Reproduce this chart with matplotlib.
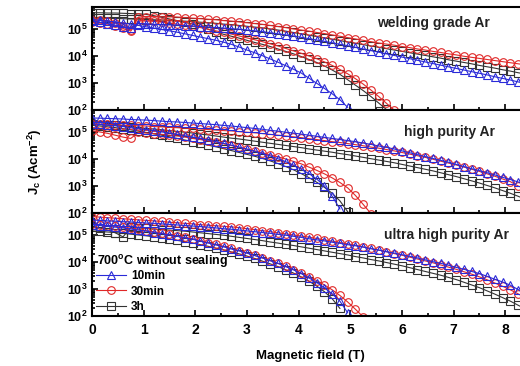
import numpy as np
import matplotlib
matplotlib.use("Agg")
import matplotlib.pyplot as plt
from matplotlib.lines import Line2D
from matplotlib.ticker import LogLocator, MultipleLocator, NullFormatter

plt.rcParams['font.family'] = ['Liberation Sans', 'DejaVu Sans']
plt.rcParams['font.weight'] = 'bold'
plt.rcParams['mathtext.fontset'] = 'custom'
plt.rcParams['mathtext.rm'] = 'Liberation Sans:bold'
plt.rcParams['mathtext.bf'] = 'Liberation Sans:bold'
plt.rcParams['mathtext.it'] = 'Liberation Sans:bold'

# magnetic field steps (T)
field = [0.0, 0.15, 0.3, 0.45, 0.6, 0.75, 0.9, 1.05, 1.2, 1.35, 1.5, 1.65, 1.8, 1.95,
         2.1, 2.25, 2.4, 2.55, 2.7, 2.85, 3.0, 3.15, 3.3, 3.45, 3.6, 3.75, 3.9, 4.05,
         4.2, 4.35, 4.5, 4.65, 4.8, 4.95, 5.1, 5.25, 5.4, 5.55, 5.7, 5.85, 6.0, 6.15,
         6.3, 6.45, 6.6, 6.75, 6.9, 7.05, 7.2, 7.35, 7.5, 7.65, 7.8, 7.95, 8.1, 8.25, 8.4]

# all Jc values below are log10(Jc / A cm^-2)
# --- welding grade Ar ---
weld_10min_hi = [5.30, 5.25, 5.20, 5.14, 5.08, 5.03, 5.20, 5.19, 5.17, 5.16, 5.15, 5.14, 5.12, 5.11,
                 5.09, 5.07, 5.05, 5.03, 5.01, 4.99, 4.96, 4.93, 4.90, 4.86, 4.82, 4.78, 4.74, 4.69,
                 4.64, 4.59, 4.54, 4.49, 4.43, 4.38, 4.32, 4.26, 4.20, 4.14, 4.08, 4.02, 3.96, 3.90,
                 3.84, 3.78, 3.72, 3.66, 3.60, 3.54, 3.48, 3.42, 3.36, 3.30, 3.23, 3.17, 3.11, 3.04, 2.98]
weld_30min_hi = [5.35, 5.33, 5.30, 5.22, 5.10, 4.96, 5.44, 5.46, 5.46, 5.45, 5.45, 5.44, 5.42, 5.40,
                 5.38, 5.36, 5.34, 5.31, 5.29, 5.26, 5.23, 5.20, 5.17, 5.13, 5.09, 5.05, 5.00, 4.96,
                 4.92, 4.87, 4.83, 4.78, 4.73, 4.68, 4.63, 4.58, 4.53, 4.48, 4.44, 4.40, 4.35, 4.31,
                 4.26, 4.22, 4.17, 4.13, 4.08, 4.04, 3.99, 3.95, 3.91, 3.87, 3.83, 3.79, 3.75, 3.71, 3.67]
weld_3h_hi = [5.40, 5.40, 5.39, 5.39, 5.38, 5.37, 5.36, 5.35, 5.34, 5.33, 5.32, 5.30, 5.29, 5.27,
              5.25, 5.23, 5.21, 5.18, 5.16, 5.13, 5.10, 5.07, 5.04, 5.00, 4.96, 4.92, 4.87, 4.82,
              4.77, 4.72, 4.67, 4.62, 4.57, 4.52, 4.47, 4.42, 4.37, 4.32, 4.27, 4.22, 4.17, 4.12,
              4.07, 4.02, 3.97, 3.92, 3.86, 3.81, 3.76, 3.71, 3.65, 3.60, 3.55, 3.49, 3.44, 3.38, 3.33]
weld_10min_lo = [5.35, 5.32, 5.29, 5.26, 5.22, 5.18, 5.13, 5.08, 5.03, 4.98, 4.93, 4.88, 4.82, 4.76,
                 4.70, 4.64, 4.58, 4.51, 4.43, 4.33, 4.22, 4.12, 4.01, 3.89, 3.77, 3.64, 3.51, 3.37,
                 3.18, 2.99, 2.80, 2.60, 2.38, 2.10]
weld_30min_lo = [5.25, 5.22, 5.18, 5.12, 5.02, 4.92, 5.30, 5.30, 5.28, 5.25, 5.22, 5.18, 5.14, 5.10,
                 5.05, 4.99, 4.93, 4.87, 4.81, 4.74, 4.67, 4.60, 4.53, 4.45, 4.37, 4.28, 4.19, 4.10,
                 4.00, 3.90, 3.78, 3.65, 3.50, 3.34, 3.16, 2.96, 2.74, 2.50, 2.25, 2.00]
weld_3h_lo = [5.60, 5.60, 5.59, 5.59, 5.58, 5.57, 5.56, 5.54, 5.49, 5.43, 5.37, 5.31, 5.24, 5.18,
              5.09, 4.99, 4.89, 4.80, 4.73, 4.66, 4.58, 4.50, 4.43, 4.35, 4.26, 4.17, 4.08, 3.98,
              3.87, 3.76, 3.63, 3.48, 3.32, 3.12, 2.92, 2.72, 2.50, 2.26, 2.02]

# --- high purity Ar ---
high_10min_hi = [5.52, 5.51, 5.50, 5.49, 5.48, 5.46, 5.45, 5.44, 5.42, 5.40, 5.38, 5.37, 5.35, 5.33,
                 5.31, 5.29, 5.27, 5.24, 5.22, 5.19, 5.16, 5.13, 5.10, 5.06, 5.03, 4.99, 4.96, 4.92,
                 4.88, 4.84, 4.80, 4.76, 4.72, 4.68, 4.64, 4.59, 4.54, 4.48, 4.43, 4.37, 4.30, 4.23,
                 4.16, 4.09, 4.02, 3.95, 3.88, 3.80, 3.72, 3.64, 3.57, 3.49, 3.41, 3.32, 3.24, 3.15, 3.06]
high_30min_hi = [5.30, 5.29, 5.28, 5.26, 5.25, 5.24, 5.23, 5.22, 5.20, 5.19, 5.17, 5.16, 5.14, 5.13,
                 5.11, 5.09, 5.07, 5.05, 5.04, 5.01, 4.99, 4.97, 4.94, 4.91, 4.88, 4.85, 4.82, 4.79,
                 4.75, 4.72, 4.68, 4.64, 4.61, 4.57, 4.53, 4.49, 4.44, 4.40, 4.35, 4.30, 4.24, 4.18,
                 4.12, 4.06, 3.99, 3.92, 3.85, 3.78, 3.70, 3.62, 3.54, 3.45, 3.36, 3.26, 3.16, 3.00, 2.88]
high_3h_hi = [5.28, 5.27, 5.25, 5.24, 5.21, 5.19, 5.16, 5.13, 5.11, 5.08, 5.05, 5.02, 4.99, 4.96,
              4.92, 4.89, 4.85, 4.81, 4.77, 4.74, 4.70, 4.66, 4.62, 4.58, 4.54, 4.50, 4.46, 4.42,
              4.37, 4.33, 4.29, 4.25, 4.20, 4.16, 4.11, 4.06, 4.01, 3.96, 3.91, 3.86, 3.80, 3.74,
              3.68, 3.62, 3.56, 3.49, 3.42, 3.35, 3.27, 3.19, 3.11, 3.02, 2.93, 2.83, 2.73, 2.62, 2.50]
high_10min_lo = [5.30, 5.28, 5.25, 5.23, 5.20, 5.16, 5.12, 5.09, 5.05, 5.00, 4.96, 4.91, 4.86, 4.81,
                 4.76, 4.70, 4.64, 4.58, 4.51, 4.44, 4.36, 4.28, 4.20, 4.11, 4.01, 3.90, 3.77, 3.62,
                 3.46, 3.26, 3.00, 2.62, 2.15]
high_30min_lo = [5.05, 5.00, 4.95, 4.88, 4.81, 4.76, 4.98, 4.96, 4.94, 4.91, 4.88, 4.85, 4.81, 4.76,
                 4.72, 4.67, 4.62, 4.56, 4.50, 4.43, 4.37, 4.30, 4.23, 4.15, 4.08, 4.00, 3.91, 3.82,
                 3.70, 3.58, 3.45, 3.30, 3.13, 2.93, 2.65, 2.32, 1.98]
high_3h_lo = [5.25, 5.22, 5.19, 5.16, 5.12, 5.08, 5.03, 4.98, 4.93, 4.88, 4.82, 4.76, 4.70, 4.64,
              4.58, 4.51, 4.45, 4.38, 4.31, 4.24, 4.17, 4.10, 4.02, 3.93, 3.83, 3.72, 3.60, 3.46,
              3.31, 3.14, 2.95, 2.73, 2.45, 2.05]

# --- ultra high purity Ar ---
ultra_10min_hi = [5.55, 5.54, 5.52, 5.51, 5.49, 5.48, 5.46, 5.44, 5.43, 5.41, 5.39, 5.37, 5.35, 5.33,
                  5.31, 5.29, 5.26, 5.23, 5.21, 5.18, 5.15, 5.12, 5.09, 5.06, 5.02, 4.99, 4.95, 4.91,
                  4.86, 4.82, 4.78, 4.73, 4.69, 4.64, 4.60, 4.55, 4.49, 4.44, 4.38, 4.33, 4.27, 4.21,
                  4.15, 4.08, 4.01, 3.95, 3.88, 3.80, 3.73, 3.65, 3.57, 3.47, 3.36, 3.26, 3.14, 2.98, 2.83]
ultra_30min_hi = [5.68, 5.66, 5.64, 5.62, 5.60, 5.58, 5.56, 5.54, 5.52, 5.50, 5.47, 5.45, 5.43, 5.41,
                  5.38, 5.36, 5.34, 5.32, 5.30, 5.27, 5.23, 5.20, 5.16, 5.12, 5.08, 5.04, 5.00, 4.96,
                  4.92, 4.87, 4.82, 4.77, 4.72, 4.67, 4.62, 4.56, 4.50, 4.44, 4.38, 4.31, 4.25, 4.18,
                  4.11, 4.04, 3.97, 3.89, 3.81, 3.73, 3.64, 3.55, 3.45, 3.34, 3.22, 3.10, 2.97, 2.82, 2.66]
ultra_3h_hi = [5.30, 5.26, 5.18, 5.08, 4.93, 5.28, 5.26, 5.24, 5.22, 5.20, 5.18, 5.16, 5.14, 5.11,
               5.08, 5.05, 5.02, 4.99, 4.95, 4.91, 4.87, 4.83, 4.79, 4.74, 4.70, 4.65, 4.61, 4.56,
               4.51, 4.46, 4.41, 4.36, 4.31, 4.26, 4.20, 4.15, 4.09, 4.04, 3.98, 3.92, 3.86, 3.79,
               3.72, 3.65, 3.58, 3.51, 3.43, 3.35, 3.25, 3.15, 3.05, 2.93, 2.81, 2.68, 2.55, 2.40, 2.25]
ultra_10min_lo = [5.37, 5.35, 5.32, 5.29, 5.26, 5.22, 5.18, 5.14, 5.09, 5.05, 5.00, 4.95, 4.89, 4.84,
                  4.77, 4.70, 4.63, 4.56, 4.48, 4.41, 4.33, 4.24, 4.15, 4.05, 3.95, 3.83, 3.71, 3.57,
                  3.41, 3.24, 3.05, 2.82, 2.55, 2.12]
ultra_30min_lo = [5.40, 5.38, 5.35, 5.32, 5.28, 5.25, 5.21, 5.16, 5.12, 5.07, 5.02, 4.97, 4.91, 4.86,
                  4.79, 4.72, 4.65, 4.58, 4.50, 4.42, 4.33, 4.24, 4.15, 4.05, 3.95, 3.84, 3.72, 3.59,
                  3.45, 3.31, 3.15, 2.97, 2.76, 2.52, 2.25, 1.97]
ultra_3h_lo = [5.15, 5.13, 5.11, 5.09, 5.06, 5.03, 5.00, 4.97, 4.93, 4.89, 4.85, 4.80, 4.75, 4.70,
               4.64, 4.58, 4.51, 4.45, 4.37, 4.30, 4.22, 4.13, 4.03, 3.93, 3.83, 3.71, 3.59, 3.45,
               3.29, 3.11, 2.90, 2.64, 2.28]

panels = [
    ("welding grade Ar", [weld_3h_hi, weld_3h_lo], [weld_30min_hi, weld_30min_lo], [weld_10min_hi, weld_10min_lo], 0.649),
    ("high purity Ar", [high_3h_hi, high_3h_lo], [high_30min_hi, high_30min_lo], [high_10min_hi, high_10min_lo], 0.711),
    ("ultra high purity Ar", [ultra_3h_hi, ultra_3h_lo], [ultra_30min_hi, ultra_30min_lo], [ultra_10min_hi, ultra_10min_lo], 0.665),
]

c_blue = '#2a2ad8'
c_red = '#e02828'
c_black = '#333333'

fig = plt.figure(figsize=(5.2, 3.66), dpi=100)
W, H = 520.0, 366.0
left = 92 / W
width = (531 - 92) / W
tops = [7, 110, 213]
ph = 103

axes = []
for k, (name, sq, ci, tr, tx) in enumerate(panels):
    ax = fig.add_axes([left, 1 - (tops[k] + ph) / H, width, ph / H])
    axes.append(ax)
    for series, color, mk, ms in [(sq, c_black, 's', 5.5), (ci, c_red, 'o', 5.5), (tr, c_blue, '^', 6)]:
        for vals in series:
            ax.plot(field[:len(vals)], 10 ** np.array(vals), color=color, lw=0.8,
                    marker=mk, ms=ms, mfc='none', mec=color, mew=0.8)
    ax.set_yscale('log')
    ax.set_ylim(1e2, 6.5e5)
    ax.set_xlim(0, 8.5)
    ax.set_yticks([1e2, 1e3, 1e4, 1e5])
    ax.set_yticklabels([r'$\mathbf{10^{2}}$', r'$\mathbf{10^{3}}$', r'$\mathbf{10^{4}}$', r'$\mathbf{10^{5}}$'])
    ax.yaxis.set_minor_locator(LogLocator(base=10, subs=np.arange(2, 10)))
    ax.yaxis.set_minor_formatter(NullFormatter())
    ax.xaxis.set_major_locator(MultipleLocator(1))
    ax.xaxis.set_minor_locator(MultipleLocator(0.5))
    ax.tick_params(which='both', direction='in', top=False, right=False, width=1.2)
    ax.tick_params(which='major', length=4.5)
    ax.tick_params(which='minor', length=2.5)
    ax.tick_params(axis='y', labelsize=9, pad=3)
    ax.tick_params(axis='x', labelsize=10, pad=5)
    for s in ax.spines.values():
        s.set_linewidth(1.5)
    if k < 2:
        ax.tick_params(axis='x', labelbottom=False)
    ax.text(tx, 0.84 if k == 0 else 0.79, name, transform=ax.transAxes, fontsize=10,
            fontweight='bold', ha='left', va='center', color='#222222')

ax = axes[2]
for lab in ax.get_xticklabels():
    lab.set_fontweight('bold')

ax.text(5 / 439, (316 - 261) / 103, r'700$^{\mathbf{o}}$C without sealing', transform=ax.transAxes,
        fontsize=9, fontweight='bold', ha='left', va='center')
handles = [Line2D([], [], color=c_blue, lw=0.8, marker='^', ms=6, mfc='none', mew=0.8),
           Line2D([], [], color=c_red, lw=0.8, marker='o', ms=5.5, mfc='none', mew=0.8),
           Line2D([], [], color=c_black, lw=0.8, marker='s', ms=5.5, mfc='none', mew=0.8)]
leg = ax.legend(handles, ['10min', '30min', '3h'],
                loc='upper left', bbox_to_anchor=(0.008, (316 - 270) / 103), frameon=False,
                prop={'size': 8.5, 'weight': 'bold'}, handlelength=2.6, handletextpad=0.4,
                labelspacing=0.3, borderpad=0, borderaxespad=0)

fig.text(310 / W, 1 - 356 / H, 'Magnetic field (T)', ha='center', va='center',
         fontsize=9.5, fontweight='bold')
fig.text(35 / W, 1 - 162 / H, r'J$_\mathbf{c}$ (Acm$^{\mathbf{-2}}$)', ha='center', va='center',
         rotation=90, fontsize=9.5, fontweight='bold')

fig.savefig('out.png', dpi=100)
